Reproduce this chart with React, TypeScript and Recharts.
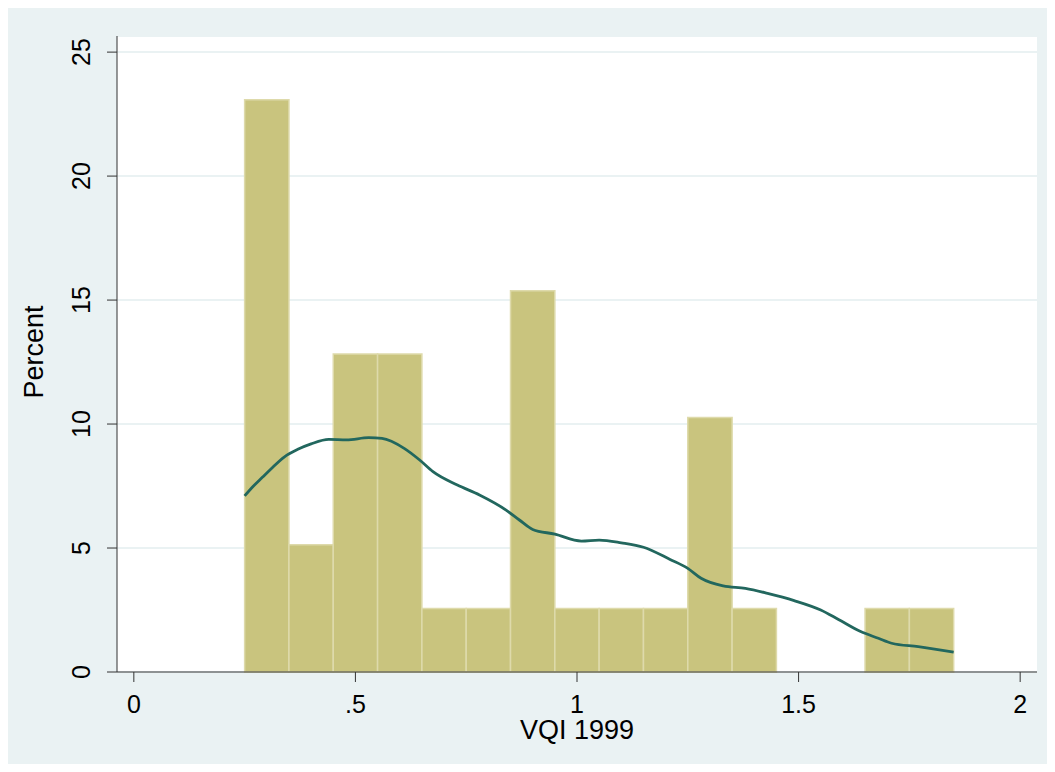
import {
  CartesianGrid,
  ComposedChart,
  Line,
  ReferenceArea,
  XAxis,
  YAxis,
} from 'recharts';

// histogram bins (width .1) of VQI 1999, in percent
const binStarts = [0.25, 0.35, 0.45, 0.55, 0.65, 0.75, 0.85, 0.95, 1.05, 1.15, 1.25, 1.35, 1.45, 1.55, 1.65, 1.75];
const binPercents = [23.08, 5.13, 12.82, 12.82, 2.56, 2.56, 15.38, 2.56, 2.56, 2.56, 10.26, 2.56, 0, 0, 2.56, 2.56];
const binWidth = 0.1;

// kernel density overlay, scaled to percent
const densityX = [0.25, 0.27, 0.29, 0.31, 0.34, 0.37, 0.4, 0.44, 0.48, 0.53, 0.56, 0.61, 0.645, 0.675, 0.73, 0.78, 0.84, 0.87, 0.9, 0.95, 1.01, 1.05, 1.1, 1.15, 1.21, 1.25, 1.28, 1.33, 1.38, 1.43, 1.49, 1.55, 1.59, 1.64, 1.68, 1.71, 1.77, 1.85];
const densityY = [7.1, 7.5, 7.85, 8.2, 8.68, 8.98, 9.2, 9.38, 9.36, 9.45, 9.42, 9.02, 8.55, 8.08, 7.54, 7.14, 6.53, 6.13, 5.75, 5.56, 5.28, 5.32, 5.21, 5.03, 4.54, 4.18, 3.78, 3.47, 3.37, 3.17, 2.88, 2.5, 2.12, 1.63, 1.36, 1.16, 1.02, 0.8];

const xTicks = [0, 0.5, 1, 1.5, 2];
const xTickLabels = ['0', '.5', '1', '1.5', '2'];
const yTicks = [0, 5, 10, 15, 20, 25];

const FONT = '"Liberation Sans", Arial, sans-serif';
const AXIS = '#333';

const densityData = densityX.map((x, i) => ({ x, y: densityY[i] }));

function YTick(props: any) {
  const { x, y, payload } = props;
  const bx = x - 15;
  return (
    <text
      x={bx}
      y={y}
      textAnchor="middle"
      transform={`rotate(-90, ${bx}, ${y})`}
      fill="#000"
      fontSize={25}
      fontFamily={FONT}
    >
      {payload.value}
    </text>
  );
}

export default function App() {
  return (
    <ComposedChart
      width={1039}
      height={756}
      data={densityData}
      margin={{ top: 28, right: 10, bottom: 0, left: 0 }}
      style={{ background: '#EAF2F3', fontFamily: FONT }}
    >
      <CartesianGrid vertical={false} stroke="#EAF2F3" strokeWidth={2} fill="#FFFFFF" />
      <XAxis
        type="number"
        dataKey="x"
        domain={[-0.038, 2.038]}
        ticks={xTicks}
        allowDataOverflow
        height={92}
        tickSize={10}
        tickMargin={13}
        stroke={AXIS}
        tick={{ fill: '#000', fontSize: 25, fontFamily: FONT }}
        tickFormatter={(v: number) => xTickLabels[xTicks.indexOf(v)] ?? String(v)}
        label={{
          content: (p: any) => (
            <text
              x={p.viewBox.x + p.viewBox.width / 2}
              y={p.viewBox.y + 67}
              textAnchor="middle"
              fill="#000"
              fontSize={27}
              fontFamily={FONT}
            >
              VQI 1999
            </text>
          ),
        }}
      />
      <YAxis
        type="number"
        domain={[0, 25.65]}
        ticks={yTicks}
        allowDataOverflow
        width={109}
        tickSize={10}
        tickMargin={2}
        stroke={AXIS}
        tick={<YTick />}
        label={{
          content: (p: any) => {
            const lx = p.viewBox.x + 35;
            const ly = p.viewBox.y + p.viewBox.height / 2 - 2;
            return (
              <text
                x={lx}
                y={ly}
                textAnchor="middle"
                transform={`rotate(-90, ${lx}, ${ly})`}
                fill="#000"
                fontSize={27}
                fontFamily={FONT}
              >
                Percent
              </text>
            );
          },
        }}
      />
      {binStarts.map((start, i) =>
        binPercents[i] > 0 ? (
          <ReferenceArea
            key={start}
            x1={start}
            x2={start + binWidth}
            y1={0}
            y2={binPercents[i]}
            fill="#C9C47E"
            fillOpacity={1}
            stroke="#DEDAAB"
            strokeWidth={1.5}
          />
        ) : null
      )}
      <Line
        type="monotone"
        dataKey="y"
        stroke="#22675E"
        strokeWidth={2.8}
        dot={false}
        activeDot={false}
        isAnimationActive={false}
      />
    </ComposedChart>
  );
}
